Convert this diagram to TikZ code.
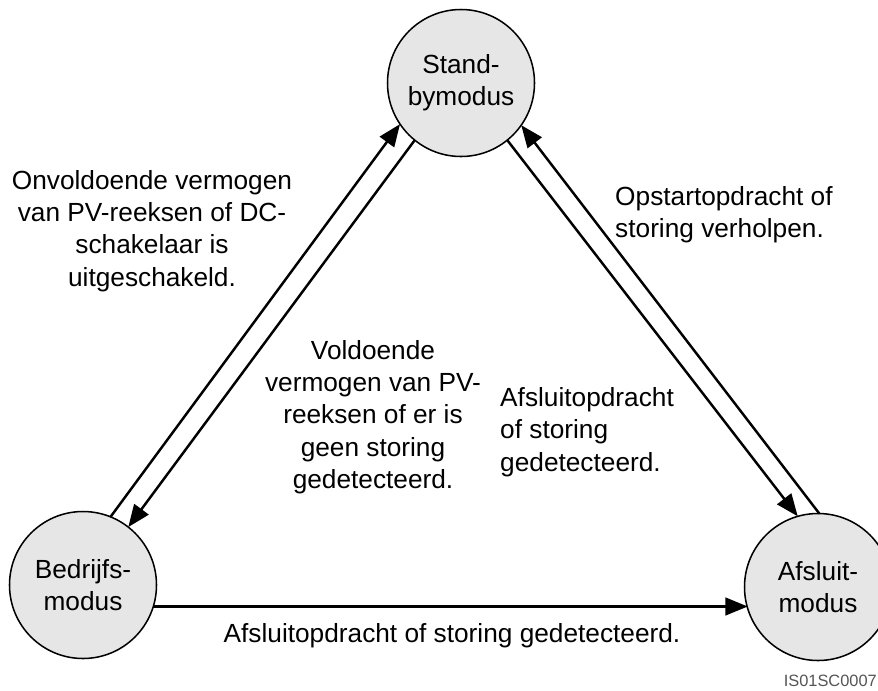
\documentclass[tikz,border=0pt]{standalone}
\usepackage{fontspec}
\setmainfont{Liberation Sans}
\usetikzlibrary{arrows.meta}
\definecolor{stategray}{HTML}{E6E6E6}
\definecolor{codegray}{HTML}{555555}
\newcommand\diagfont{\fontsize{22.4}{27.6}\selectfont}
\begin{document}
\begin{tikzpicture}[x=0.03cm,y=-0.03cm,
  state/.style={circle,draw=black,line width=1.3pt,fill=stategray,
    minimum size=4.41cm,inner sep=0pt,outer sep=0pt,align=center,font=\diagfont},
  lbl/.style={inner sep=0pt,font=\diagfont},
  arr/.style={line width=2.1pt,-{Triangle[length=19pt,width=15pt]}}]
  % page frame
  \clip (0,0) rectangle (878,690);
  \fill[white] (0,0) rectangle (878,690);

  % the three operating modes
  \node[state] (T) at (461,83)  {Stand-\\bymodus};
  \node[state] (L) at (83,585)  {Bedrijfs-\\modus};
  \node[state] (R) at (818,587) {Afsluit-\\modus};

  % transitions
  \draw[arr] (L.68.8) -- (T.214.2);
  \draw[arr] (T.231) -- (L.52.7);
  \draw[arr] (T.309) -- (R.106);
  \draw[arr] (R.89.2) -- (T.325.5);
  \draw[arr] (L.-17.3) -- (L.-17.3 -| R.197);

  % transition conditions
  \node[lbl,align=center] (cLT) at (152,231)
    {Onvoldoende vermogen\\van PV-reeksen of DC-\\schakelaar is\\uitgeschakeld.};
  \node[lbl,align=center] (cTL) at (373,417)
    {Voldoende\\vermogen van PV-\\reeksen of er is\\geen storing\\gedetecteerd.};
  \node[lbl,align=left,anchor=west] (cTR) at (500,432)
    {Afsluitopdracht\\of storing\\gedetecteerd.};
  \node[lbl,align=left,anchor=west] (cRT) at (615,215)
    {Opstartopdracht of\\storing verholpen.};
  \node[lbl] (cLR) at (452,636) {Afsluitopdracht of storing gedetecteerd.};

  % drawing code
  \node[inner sep=0pt,anchor=east,text=codegray,font=\fontsize{14}{16}\selectfont]
    (code) at (877,681) {IS01SC0007};
\end{tikzpicture}
\end{document}
